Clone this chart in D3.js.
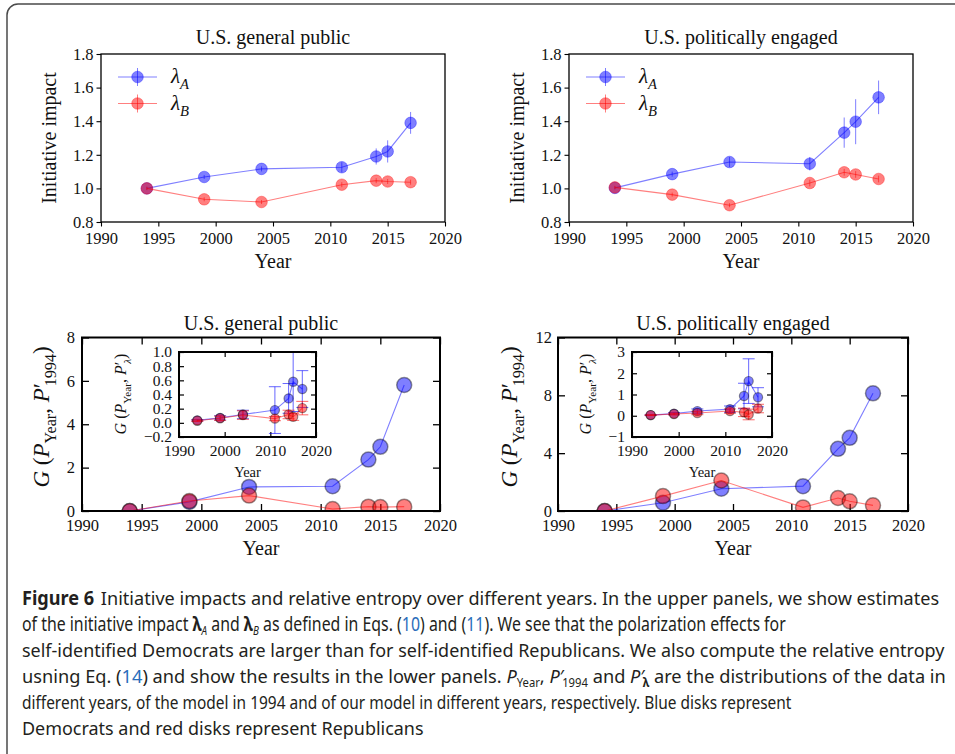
<!DOCTYPE html>
<html>
<head>
<meta charset="utf-8">
<script src="https://cdn.jsdelivr.net/npm/d3@7"></script>
<style>
  body { margin: 0; background: #fff; }
</style>
</head>
<body>
<svg id="fig" width="955" height="754"></svg>
<script>
// ---- data ----
const years = [1994, 1999, 2004, 2011, 2014, 2015, 2017];
const xTicksMain = [1990, 1995, 2000, 2005, 2010, 2015, 2020];
const xTicksInset = [1990, 2000, 2010, 2020];

// upper panels: initiative impact
const lamAPublic = [1.00, 1.068, 1.116, 1.126, 1.19, 1.22, 1.39];
const lamAPublicErr = [0.01, 0.012, 0.015, 0.03, 0.048, 0.066, 0.065];
const lamBPublic = [1.00, 0.935, 0.919, 1.022, 1.046, 1.041, 1.037];
const lamBPublicErr = [0.01, 0.012, 0.012, 0.015, 0.015, 0.015, 0.015];

const lamAEngaged = [1.003, 1.085, 1.157, 1.147, 1.332, 1.397, 1.542];
const lamAEngagedErr = [0.01, 0.015, 0.03, 0.04, 0.09, 0.134, 0.1];
const lamBEngaged = [1.006, 0.963, 0.90, 1.032, 1.096, 1.083, 1.056];
const lamBEngagedErr = [0.01, 0.012, 0.012, 0.02, 0.02, 0.02, 0.02];
const impactTicks = [0.8, 1.0, 1.2, 1.4, 1.6, 1.8];

// lower panels: relative entropy vs 1994 model
const gAPublic = [0.0, 0.42, 1.11, 1.14, 2.37, 2.96, 5.81];
const gBPublic = [0.0, 0.46, 0.71, 0.09, 0.20, 0.18, 0.20];
const gAEngaged = [0.0, 0.57, 1.54, 1.72, 4.30, 5.06, 8.14];
const gBEngaged = [0.0, 1.03, 2.11, 0.25, 0.90, 0.67, 0.39];
const gTicksPublic = [0, 2, 4, 6, 8];
const gTicksEngaged = [0, 4, 8, 12];

// insets: relative entropy vs our model
const insAPublic = [0.035, 0.07, 0.118, 0.18, 0.345, 0.58, 0.477];
const insAPublicErr = [0.01, 0.03, 0.06, 0.33, 0.21, 0.42, 0.26];
const insBPublic = [0.03, 0.065, 0.11, 0.06, 0.118, 0.085, 0.208];
const insBPublicErr = [0.01, 0.03, 0.06, 0.03, 0.06, 0.05, 0.095];
const insTicksPublic = [-0.2, 0.0, 0.2, 0.4, 0.6, 0.8, 1.0];

const insAEngaged = [0.03, 0.10, 0.22, 0.31, 0.93, 1.63, 0.87];
const insAEngagedErr = [0.02, 0.05, 0.10, 0.15, 0.60, 1.05, 0.45];
const insBEngaged = [0.03, 0.08, 0.13, 0.22, 0.16, 0.06, 0.34];
const insBEngagedErr = [0.02, 0.04, 0.08, 0.10, 0.20, 0.25, 0.20];
const insTicksEngaged = [-1, 0, 1, 2, 3];

// ---- drawing ----
const svg = d3.select('#fig');
const SERIF = '"Liberation Serif", "DejaVu Serif", serif';
const SANS = '"Noto Sans", "Open Sans", sans-serif';
const BLUE = '#0000ff';
const RED = '#ff0000';
let clipCount = 0;

svg.append('rect').attr('width', 955).attr('height', 754).attr('fill', '#fff');

// figure border
svg.append('rect')
  .attr('x', 7).attr('y', 4).attr('width', 980).attr('height', 765)
  .attr('rx', 11)
  .attr('fill', 'none').attr('stroke', '#4a4a4a').attr('stroke-width', 1.5);

// text with italic / subscript pieces
function addMath(text, parts, fs, subShift = 0.3, subSize = 0.7) {
  let shift = 0;
  parts.forEach((p) => {
    const target = p.sub ? fs * subShift : 0;
    const ts = text.append('tspan').text(p.t).attr('dy', target - shift);
    shift = target;
    if (p.sub) ts.attr('font-size', fs * subSize);
    if (p.it) ts.attr('font-style', 'italic');
    if (p.b) ts.attr('font-weight', 'bold');
    if (p.c) ts.attr('fill', p.c);
    if (p.dx) ts.attr('dx', p.dx);
  });
  return text;
}

function makeAxes(o) {
  const g = svg.append('g');
  const x = d3.scaleLinear().domain(o.xDomain).range([o.left, o.right]);
  const y = d3.scaleLinear().domain(o.yDomain).range([o.bottom, o.top]);

  if (o.background) {
    g.append('rect')
      .attr('x', o.left).attr('y', o.top)
      .attr('width', o.right - o.left).attr('height', o.bottom - o.top)
      .attr('fill', '#fff');
  }

  const len = o.inward ? -o.tick : o.tick;
  const styleAxis = (sel) => {
    sel.attr('font-family', SERIF).attr('font-size', o.tickFont);
    sel.select('.domain').remove();
    sel.selectAll('.tick line').attr('stroke', '#000').attr('stroke-width', o.tickWidth);
    sel.selectAll('.tick text').attr('fill', '#111');
  };

  g.append('g')
    .attr('transform', `translate(0,${o.bottom})`)
    .call(d3.axisBottom(x).tickValues(o.xTicks).tickFormat(d3.format('d'))
      .tickSize(len).tickPadding(o.xPad))
    .call(styleAxis);
  g.append('g')
    .attr('transform', `translate(${o.left},0)`)
    .call(d3.axisLeft(y).tickValues(o.yTicks).tickFormat(o.yFormat)
      .tickSize(len).tickPadding(o.yPad))
    .call(styleAxis);
  if (o.inward) {
    g.append('g')
      .attr('transform', `translate(0,${o.top})`)
      .call(d3.axisTop(x).tickValues(o.xTicks).tickFormat('').tickSize(len))
      .call(styleAxis);
    g.append('g')
      .attr('transform', `translate(${o.right},0)`)
      .call(d3.axisRight(y).tickValues(o.yTicks).tickFormat('').tickSize(len))
      .call(styleAxis);
  }

  clipCount += 1;
  const clipId = `clip${clipCount}`;
  g.append('clipPath').attr('id', clipId)
    .append('rect')
    .attr('x', o.left).attr('y', o.top)
    .attr('width', o.right - o.left).attr('height', o.bottom - o.top);
  const plot = g.append('g').attr('clip-path', `url(#${clipId})`);

  g.append('rect')
    .attr('x', o.left).attr('y', o.top)
    .attr('width', o.right - o.left).attr('height', o.bottom - o.top)
    .attr('fill', 'none').attr('stroke', '#000').attr('stroke-width', o.frame);

  return { g, plot, x, y };
}

function drawSeries(ax, vals, errs, color, m) {
  const pts = years.map((yr, i) => ({ yr, v: vals[i], e: errs ? errs[i] : 0 }));
  ax.plot.append('path')
    .datum(pts)
    .attr('d', d3.line().x((d) => ax.x(d.yr)).y((d) => ax.y(d.v)))
    .attr('fill', 'none')
    .attr('stroke', color).attr('stroke-opacity', 0.5).attr('stroke-width', 1.1);

  if (errs) {
    const eb = ax.plot.append('g')
      .attr('stroke', color).attr('stroke-opacity', m.errOpacity).attr('stroke-width', 1);
    pts.forEach((d) => {
      const cx = ax.x(d.yr);
      const y1 = ax.y(d.v - d.e);
      const y2 = ax.y(d.v + d.e);
      eb.append('line').attr('x1', cx).attr('x2', cx).attr('y1', y1).attr('y2', y2);
      if (m.cap) {
        eb.append('line').attr('x1', cx - m.cap).attr('x2', cx + m.cap).attr('y1', y1).attr('y2', y1);
        eb.append('line').attr('x1', cx - m.cap).attr('x2', cx + m.cap).attr('y1', y2).attr('y2', y2);
      }
    });
  }

  ax.plot.append('g')
    .selectAll('circle')
    .data(pts)
    .join('circle')
    .attr('cx', (d) => ax.x(d.yr))
    .attr('cy', (d) => ax.y(d.v))
    .attr('r', m.r)
    .attr('fill', color).attr('fill-opacity', 0.5)
    .attr('stroke', m.edge || color)
    .attr('stroke-opacity', m.edgeOpacity)
    .attr('stroke-width', m.edgeWidth);
}

function label(x, y, txt, fs, rotate) {
  return svg.append('text')
    .attr('transform', `translate(${x},${y})${rotate ? ' rotate(-90)' : ''}`)
    .attr('text-anchor', 'middle')
    .attr('font-family', SERIF).attr('font-size', fs).attr('fill', '#111')
    .text(txt);
}

function mathLabel(x, y, parts, fs, rotate) {
  const t = svg.append('text')
    .attr('transform', `translate(${x},${y})${rotate ? ' rotate(-90)' : ''}`)
    .attr('text-anchor', 'middle')
    .attr('font-family', SERIF).attr('font-size', fs).attr('fill', '#111');
  return addMath(t, parts, fs);
}

// ---- upper panels ----
const upperMarker = { r: 5.8, edgeOpacity: 0.35, edgeWidth: 1, errOpacity: 0.5 };

function upperPanel(left, right, title, aVals, aErr, bVals, bErr, ylx) {
  const ax = makeAxes({
    left, right, top: 54, bottom: 222,
    xDomain: [1990, 2020], yDomain: [0.8, 1.8],
    xTicks: xTicksMain, yTicks: impactTicks, yFormat: d3.format('.1f'),
    inward: false, tick: 4.5, tickWidth: 1.1, tickFont: 16.5, xPad: 6, yPad: 3, frame: 1.3,
  });
  drawSeries(ax, aVals, aErr, BLUE, upperMarker);
  drawSeries(ax, bVals, bErr, RED, upperMarker);

  // legend
  [[BLUE, 'A', 77], [RED, 'B', 103.5]].forEach(([color, sub, ly]) => {
    const lx = left + 17;
    svg.append('line').attr('x1', lx).attr('x2', lx + 39).attr('y1', ly).attr('y2', ly)
      .attr('stroke', color).attr('stroke-opacity', 0.5).attr('stroke-width', 1.1);
    svg.append('line').attr('x1', lx + 19.5).attr('x2', lx + 19.5).attr('y1', ly - 9).attr('y2', ly + 9)
      .attr('stroke', color).attr('stroke-opacity', 0.5).attr('stroke-width', 1);
    svg.append('circle').attr('cx', lx + 19.5).attr('cy', ly).attr('r', upperMarker.r)
      .attr('fill', color).attr('fill-opacity', 0.5)
      .attr('stroke', color).attr('stroke-opacity', 0.35);
    const t = svg.append('text').attr('x', lx + 53).attr('y', ly + 6)
      .attr('font-family', SERIF).attr('font-size', 21).attr('fill', '#111');
    addMath(t, [{ t: 'λ', it: true }, { t: sub, it: true, sub: true }], 21);
  });

  const cx = (left + right) / 2;
  label(cx, 44, title, 20);
  label(cx, 268, 'Year', 20);
  label(ylx, 138, 'Initiative impact', 20, true);
}

upperPanel(101, 445, 'U.S. general public', lamAPublic, lamAPublicErr, lamBPublic, lamBPublicErr, 56);
upperPanel(569, 913, 'U.S. politically engaged', lamAEngaged, lamAEngagedErr, lamBEngaged, lamBEngagedErr, 524);

// ---- lower panels ----
const mainMarker = { r: 7.5, edge: '#000', edgeOpacity: 0.4, edgeWidth: 1.5 };
const insetMarker = { r: 4.6, edge: '#000', edgeOpacity: 0.4, edgeWidth: 1.2, errOpacity: 0.6, cap: 6 };

function lowerPanel(o) {
  const ax = makeAxes({
    left: o.left, right: o.right, top: 337.5, bottom: 511,
    xDomain: [1990, 2020], yDomain: o.yDomain,
    xTicks: xTicksMain, yTicks: o.yTicks, yFormat: d3.format('d'),
    inward: true, tick: 7, tickWidth: 1.3, tickFont: 16.5, xPad: 8, yPad: o.yPad, frame: 2,
  });
  drawSeries(ax, o.a, null, BLUE, mainMarker);
  drawSeries(ax, o.b, null, RED, mainMarker);

  const cx = (o.left + o.right) / 2;
  label(cx, 330, o.title, 20);
  label(cx, 555, 'Year', 20);
  mathLabel(o.ylx, 417, [
    { t: 'G', it: true }, { t: ' (' }, { t: 'P', it: true }, { t: 'Year', sub: true },
    { t: ', ' }, { t: 'P', it: true }, { t: '′' }, { t: '1994', sub: true, dx: -3 }, { t: ')' },
  ], 23, true);

  const ins = makeAxes({
    left: o.insLeft, right: o.insRight, top: 352, bottom: 437,
    xDomain: [1990, 2020], yDomain: o.insDomain,
    xTicks: xTicksInset, yTicks: o.insTicks, yFormat: o.insFormat,
    inward: true, tick: 5, tickWidth: 1.2, tickFont: 15.5, xPad: 8, yPad: 7, frame: 2,
    background: true,
  });
  drawSeries(ins, o.ia, o.iaErr, BLUE, insetMarker);
  drawSeries(ins, o.ib, o.ibErr, RED, insetMarker);
  label((o.insLeft + o.insRight) / 2, 477, 'Year', 14.5);
  mathLabel(o.insYlx, 394, [
    { t: 'G', it: true }, { t: ' (' }, { t: 'P', it: true }, { t: 'Year', sub: true },
    { t: ', ' }, { t: 'P', it: true }, { t: '′' }, { t: 'λ', sub: true, it: true, dx: -2 }, { t: ')' },
  ], 16, true);
}

lowerPanel({
  left: 82, right: 440, title: 'U.S. general public',
  yDomain: [0, 8], yTicks: gTicksPublic, yPad: 7, a: gAPublic, b: gBPublic, ylx: 49,
  insLeft: 179, insRight: 316, insDomain: [-0.2, 1.0], insTicks: insTicksPublic,
  insFormat: d3.format('.1f'), ia: insAPublic, iaErr: insAPublicErr, ib: insBPublic, ibErr: insBPublicErr,
  insYlx: 126,
});

lowerPanel({
  left: 558, right: 908, title: 'U.S. politically engaged',
  yDomain: [0, 12], yTicks: gTicksEngaged, yPad: 6, a: gAEngaged, b: gBEngaged, ylx: 517,
  insLeft: 632, insRight: 772, insDomain: [-1, 3], insTicks: insTicksEngaged,
  insFormat: d3.format('d'), ia: insAEngaged, iaErr: insAEngagedErr, ib: insBEngaged, ibErr: insBEngagedErr,
  insYlx: 591,
});

// ---- caption ----
const LINK = '#2a6ebb';
const captionLines = [
  [{ t: 'Figure 6', b: true }, { t: 'Initiative impacts and relative entropy over different years. In the upper panels, we show estimates', dx: 7 }],
  [{ t: 'of the initiative impact ' }, { t: 'λ', b: true }, { t: 'A', sub: true, it: true }, { t: ' and ' },
    { t: 'λ', b: true }, { t: 'B', sub: true, it: true }, { t: ' as defined in Eqs. (' }, { t: '10', c: LINK },
    { t: ') and (' }, { t: '11', c: LINK }, { t: '). We see that the polarization effects for' }],
  [{ t: 'self-identified Democrats are larger than for self-identified Republicans. We also compute the relative entropy' }],
  [{ t: 'usning Eq. (' }, { t: '14', c: LINK }, { t: ') and show the results in the lower panels. ' },
    { t: 'P', it: true }, { t: 'Year', sub: true }, { t: ', ' }, { t: 'P', it: true }, { t: '′' },
    { t: '1994', sub: true, dx: -2 }, { t: ' and ' }, { t: 'P', it: true }, { t: '′' }, { t: 'λ', sub: true, b: true, dx: -2 },
    { t: ' are the distributions of the data in' }],
  [{ t: 'different years, of the model in 1994 and of our model in different years, respectively. Blue disks represent' }],
  [{ t: 'Democrats and red disks represent Republicans' }],
];
const captionRight = [940, 786, 945, 946, 792, 424];
const captionBase = [605, 631, 657, 683, 709, 735];
const capLeft = 22;

captionLines.forEach((parts, i) => {
  const t = svg.append('text')
    .attr('font-family', SANS).attr('font-size', 19).attr('fill', '#231f20');
  addMath(t, parts, 19, 0.2, 0.62);
  const w = t.node().getBBox().width;
  const sx = (captionRight[i] - capLeft) / w;
  t.attr('transform', `translate(${capLeft},${captionBase[i]}) scale(${sx},1)`);
});
</script>
</body>
</html>
